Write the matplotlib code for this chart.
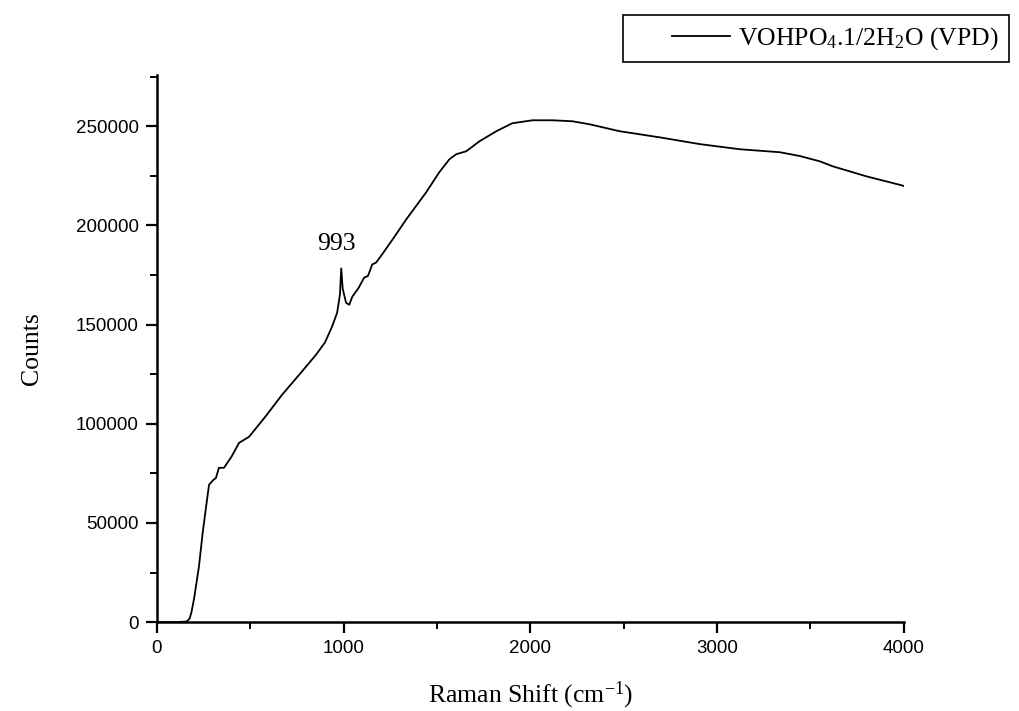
''' Raman spectrum of VOHPO4.1/2H2O (VPD) '''
import matplotlib
matplotlib.use('Agg')
import matplotlib.pyplot as plt
from matplotlib.ticker import MultipleLocator
from matplotlib.legend_handler import HandlerLine2D

# values
shift = [0, 100, 160, 175, 185, 200, 225, 245, 263, 279, 300, 316, 332, 359, 400, 440, 493,
         580, 670, 760, 852, 900, 938, 965, 980, 987, 995, 1013, 1030, 1046, 1080,
         1110, 1130, 1153, 1174, 1206, 1270, 1335, 1442, 1512, 1566, 1603, 1657,
         1727, 1818, 1903, 2011, 2118, 2225, 2316, 2477, 2692, 2906, 3121, 3335,
         3442, 3550, 3619, 3801, 3989, 4000]
counts = [0, 0, 300, 1800, 5000, 12500, 28000, 45000, 58000, 69200, 71500, 72700, 77800, 77800,
          83500, 90400, 93400, 103500, 114600, 124500, 134800, 141000, 149000, 156000,
          165000, 178300, 168000, 161000, 160000, 164000, 168500,
          173700, 174500, 180300, 181300, 185400, 194000, 203000, 216700, 226800,
          233300, 235900, 237400, 242400, 247500, 251500, 253000, 253000, 252500,
          251000, 247500, 244400, 241000, 238400, 236900, 235000, 232300, 229800,
          224700, 220200, 219800]

peak_label = '993'
peak_pos = (960, 185000)


class ShiftedLine(HandlerLine2D):
    # legend line only on the right part of the handle box (leaves a gap on the left)
    def get_xdata(self, legend, xdescent, ydescent, width, height, fontsize):
        xd = [-xdescent + 0.4 * width, -xdescent + width]
        return xd, xd


plt.rcParams['mathtext.fontset'] = 'custom'
plt.rcParams['mathtext.rm'] = 'Liberation Serif'
plt.rcParams['mathtext.it'] = 'Liberation Serif:italic'

fig = plt.figure(figsize=(10.19, 7.11), dpi=100)
ax = fig.add_axes([0.154, 0.125, 0.733, 0.770])

line, = ax.plot(shift, counts, color='black', lw=1.3)
ax.text(peak_pos[0], peak_pos[1], peak_label, ha='center', va='bottom',
        family='Liberation Serif', fontsize=18.5)

ax.set_xlim(0, 4000)
ax.set_ylim(0, 276000)
ax.xaxis.set_major_locator(MultipleLocator(1000))
ax.xaxis.set_minor_locator(MultipleLocator(500))
ax.yaxis.set_major_locator(MultipleLocator(50000))
ax.yaxis.set_minor_locator(MultipleLocator(25000))

for s in ['top', 'right']:
    ax.spines[s].set_visible(False)
for s in ['left', 'bottom']:
    ax.spines[s].set_linewidth(1.8)
ax.tick_params(which='major', direction='out', length=8, width=1.6,
               labelsize=13.5, pad=5)
ax.tick_params(which='minor', direction='out', length=5, width=1.4)
for lab in ax.get_xticklabels() + ax.get_yticklabels():
    lab.set_family('Liberation Sans')

ax.set_xlabel('Raman Shift (cm$^{\\mathrm{-1}}$)', family='Liberation Serif',
              fontsize=18.5, labelpad=16)
ax.set_ylabel('Counts', family='Liberation Serif', fontsize=18.5, labelpad=24)

leg = fig.legend([line], ['VOHPO$_{\\mathrm{4}}$.1/2H$_{\\mathrm{2}}$O (VPD)'],
                 loc='upper right', bbox_to_anchor=(0.990, 0.979),
                 prop={'family': 'Liberation Serif', 'size': 18.5},
                 fancybox=False, framealpha=1, edgecolor='black',
                 handlelength=3.75, handletextpad=0.3, borderpad=0.4,
                 borderaxespad=0, handler_map={line: ShiftedLine()})
leg.get_frame().set_linewidth(1.2)

fig.savefig('out.png', dpi=100)
